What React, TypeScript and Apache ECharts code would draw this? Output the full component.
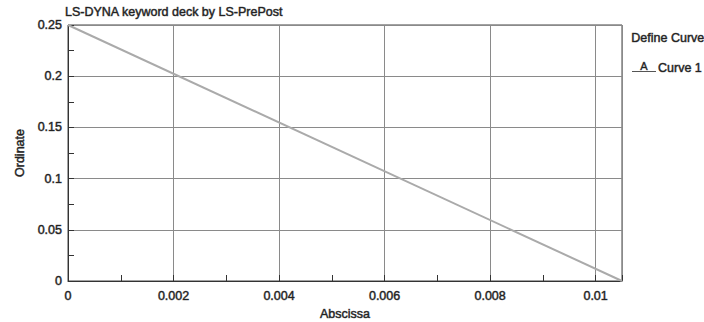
import React, { useEffect, useRef } from "react";
import * as echarts from "echarts";

const xValues = [0, 0.0105];
const yValues = [0.25, 0];
const seriesName = "Curve 1";
const legendTitle = "Define Curve";
const chartTitle = "LS-DYNA keyword deck by LS-PrePost";
const xName = "Abscissa";
const yName = "Ordinate";

const FONT = "'Liberation Sans', Arial, sans-serif";
const FS = 12.5;
const TXT = {
  fontSize: FS,
  color: "#222",
  fontFamily: FONT,
  fontWeight: "normal" as const,
  textBorderColor: "#666",
  textBorderWidth: 0.6,
};

export default function App() {
  const ref = useRef<HTMLDivElement>(null);
  useEffect(() => {
    if (!ref.current) return;
    const chart = echarts.init(ref.current, null, { renderer: "svg" });
    const axisColor = "#333";
    const gridColor = "#8a8a8a";
    chart.setOption({
      animation: false,
      backgroundColor: "#fff",
      textStyle: { fontFamily: FONT },
      title: {
        text: chartTitle,
        left: 65,
        top: 5,
        padding: 0,
        textStyle: { ...TXT },
      },
      grid: {
        left: 68,
        right: 82,
        top: 25,
        bottom: 41,
        show: true,
        borderColor: "#444",
        borderWidth: 1,
        backgroundColor: "transparent",
        containLabel: false,
        outerBoundsMode: "none",
      },
      legend: {
        left: 632,
        top: 61,
        padding: 0,
        itemWidth: 24,
        itemHeight: 10,
        icon: "rect",
        itemGap: 4,
        textStyle: { ...TXT, padding: [0, 0, 0, -3] },
        data: [{ name: seriesName, itemStyle: { color: "rgba(0,0,0,0)" } }],
      },
      graphic: [
        {
          type: "text",
          left: 631,
          top: 31,
          style: { text: legendTitle, fontSize: FS, fill: "#222", fontFamily: FONT, stroke: "#666", lineWidth: 0.6 },
        },
        {
          type: "text",
          left: 640,
          top: 60,
          style: { text: "A", fontSize: 11, fill: "#222", fontFamily: FONT, stroke: "#666", lineWidth: 0.5 },
        },
        {
          type: "line",
          shape: { x1: 632, y1: 71.5, x2: 656, y2: 71.5 },
          style: { stroke: "#555", lineWidth: 1 },
        },
      ],
      xAxis: {
        type: "value",
        min: 0,
        max: xValues[1],
        interval: 0.002,
        name: xName,
        nameLocation: "middle",
        nameGap: 26,
        nameTextStyle: { ...TXT },
        axisLine: { show: true, lineStyle: { color: axisColor, width: 1 } },
        axisTick: { show: true, inside: true, length: 6, lineStyle: { color: axisColor } },
        minorTick: { show: true, splitNumber: 2, length: 6, lineStyle: { color: axisColor } },
        splitLine: { show: true, lineStyle: { color: gridColor, width: 1 } },
        axisLabel: {
          ...TXT,
          showMaxLabel: false,
          margin: 8,
          formatter: (v: number) => String(parseFloat(v.toFixed(4))),
        },
      },
      yAxis: {
        type: "value",
        min: 0,
        max: 0.25,
        interval: 0.05,
        name: yName,
        nameLocation: "middle",
        nameGap: 42,
        nameTextStyle: { ...TXT },
        axisLine: { show: true, lineStyle: { color: axisColor, width: 1 } },
        axisTick: { show: true, inside: true, length: 6, lineStyle: { color: axisColor } },
        minorTick: { show: true, splitNumber: 2, length: 6, lineStyle: { color: axisColor } },
        splitLine: { show: true, lineStyle: { color: gridColor, width: 1 } },
        axisLabel: {
          ...TXT,
          margin: 6,
          formatter: (v: number) => String(parseFloat(v.toFixed(3))),
        },
      },
      series: [
        {
          name: seriesName,
          type: "line",
          data: xValues.map((x, i) => [x, yValues[i]]),
          showSymbol: false,
          symbol: "none",
          lineStyle: { color: "#aaaaaa", width: 2 },
          itemStyle: { color: "rgba(0,0,0,0)" },
        },
      ],
    });
    return () => chart.dispose();
  }, []);
  return <div ref={ref} style={{ width: 704, height: 322, position: "absolute", left: 0, top: 0 }} />;
}
